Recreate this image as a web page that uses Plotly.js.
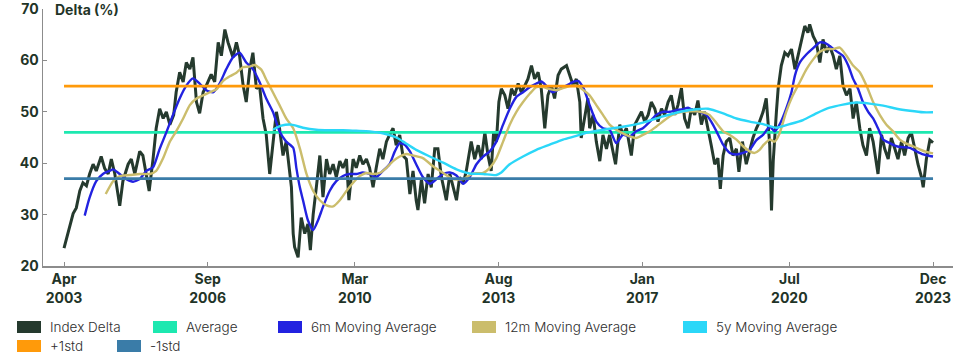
<!DOCTYPE html>
<html><head><meta charset="utf-8">
<script src="https://cdn.plot.ly/plotly-3.0.1.min.js"></script>
<style>html,body{margin:0;padding:0;background:#fff}#chart{width:953px;height:359px}</style>
</head><body><div id="chart"></div>
<script>
// ---------- DATA (x = months since Apr 2003) ----------
const tickMonths = [0, 41, 83, 124, 165, 207, 248];
const tickLabels = ["Apr<br>2003", "Sep<br>2006", "Mar<br>2010", "Aug<br>2013", "Jan<br>2017", "Jul<br>2020", "Dec<br>2023"];
const yTickValues = [20, 30, 40, 50, 60, 70];

const deltaMonths = [0,0.7,1.6,2.6,3.5,4.5,5.4,6.4,7.3,8.3,
9.2,10.6,11.6,12.6,13.5,14.5,15.9,16.8,18.3,19.2,
20.2,21.6,22.5,23.5,24.3,25.4,26.3,27.3,28.3,29.2,
30.2,31.3,32,33,34,34.9,35.9,36.8,37.8,38.7,
39.7,40.6,42,43,44,44.9,45.9,46.8,48.2,49.2,
50.1,51.1,52,53,53.9,54.9,55.8,56.8,57.7,58.7,
59.6,60.6,61.5,62.5,63.4,64.4,64.9,65.4,65.8,66.8,
67.7,68.7,69.6,70.3,71.1,72,73,73.9,74.9,75.8,
76.8,77.7,78.7,79.6,80.6,81.3,82.5,83.4,84.4,85.3,
86.3,87.2,88.2,89.1,90.1,91,92,92.9,93.9,94.8,
95.8,96.7,97.7,98.7,99.6,100.5,101,102,102.9,103.9,
104.8,105.8,106.7,107.7,108.6,109.1,110.1,111,112,112.9,
113.9,114.8,115.6,116.2,117.2,118.2,119.1,120.1,121,121.9,
122.6,123.4,124.1,124.8,125.8,126.7,127.7,128.6,129.6,130.5,
131.5,132.4,133.4,134.3,135.3,136.2,137.2,138.1,139.1,140,
141,141.9,143.4,144.3,145.3,146.2,147.2,147.6,148.6,149.5,
150,151,151.9,152.9,153.8,154.8,155.7,156.7,157.4,158.6,
159.5,160.5,161.4,161.9,162.9,163.8,164.8,165.7,166.7,167.6,
168.6,169.5,170.5,171.4,172.4,173.3,174.3,175.2,176.2,177.1,
178.1,179,180,180.9,181.9,182.8,183.8,184.7,185.7,186.6,
187.3,188.1,189,190,190.9,191.9,192.6,193.6,194.7,195.7,
196.6,197.6,198.5,199.5,200.4,200.9,201.4,201.9,202.4,203.3,
203.8,204.7,205.7,206.6,207.6,208.6,209.5,210.4,211.4,212.3,
212.8,213.8,214.7,215.7,216.6,217.6,218.5,219.5,220.4,221.4,
222.3,223.3,224.3,225.2,226.1,227.1,228,229,229.9,230.9,
232.3,233.3,234.2,235.2,236.1,237.1,238,239,239.9,240.9,
241.8,242.8,243.7,244.7,245.2,246.1,247.1,248];
const deltaValues = [23.5,25.4,27.5,30.2,31.3,34.6,36.2,35.6,37.9,39.8,
38.5,41.3,39.0,37.9,40.8,37.9,31.7,36.5,39.8,40.8,
37.9,42.3,41.5,37.9,34.6,40.8,46.8,50.6,48.7,50.0,
47.5,49.4,53.8,57.7,55.8,59.6,58.3,60.6,51.9,49.7,
53.8,55.1,57.3,55.8,63.5,60.9,66.0,63.5,60.6,63.5,
60.9,55.2,51.9,58.3,61.5,54.5,55.1,48.7,45.6,37.9,
44.2,50.0,46.8,41.5,44.2,37.9,35.3,26.3,23.7,21.7,
29.4,26.3,28.2,23.1,30.0,35.3,41.5,33.4,40.8,37.9,
39.8,37.3,40.4,39.1,40.8,32.8,40.8,39.1,41.5,39.8,
40.8,39.1,35.3,39.1,42.8,40.8,44.2,45.5,46.8,43.5,
45.5,41.5,40.8,34.0,38.5,32.8,30.9,36.9,32.2,37.9,
35.3,42.8,42.8,37.3,34.6,32.8,37.9,35.3,32.8,37.3,
36.0,38.5,41.5,44.2,40.8,43.5,40.8,46.0,41.5,38.5,
46.0,44.2,51.9,54.5,53.2,50.6,54.5,53.2,55.5,53.8,
55.1,56.4,59.0,56.4,57.7,54.5,46.8,53.2,55.1,52.6,
57.1,58.3,59.0,57.1,55.1,56.4,51.9,44.9,49.4,52.6,
46.8,49.4,44.2,40.4,45.5,42.8,45.5,42.2,39.8,47.5,
45.5,46.8,42.8,41.5,47.5,48.7,50.0,48.1,49.4,51.9,
50.6,48.1,50.6,49.4,51.9,53.2,49.4,51.3,54.6,48.7,
46.8,50.6,49.4,52.2,47.5,50.0,46.8,43.5,39.8,41.0,
35.0,41.5,44.2,44.9,41.5,42.8,38.3,44.2,39.8,42.8,
44.9,46.8,48.1,50.0,52.6,48.1,43.5,30.8,40.4,50.0,
54.5,59.0,61.5,60.9,62.2,58.3,60.9,64.1,66.7,65.4,
67.0,64.7,63.5,59.6,64.1,61.5,62.8,60.9,58.3,60.9,
55.1,53.2,54.5,48.7,51.9,46.8,43.5,41.5,46.8,44.2,
37.9,45.5,42.8,40.8,44.9,42.8,40.8,44.2,41.5,44.9,
46.0,42.8,39.8,37.3,35.3,40.8,44.5,44.0];

const ma6Months = [5.9,7.3,9.2,11.1,13,14,15.9,17.8,19.7,21.6,23.5,25.4,27.3,29.2,31.1,33,34.9,36.8,38.7,40.6,
42.5,44.4,46.3,48.2,50.1,52,53.9,55.8,57.7,59.6,61.5,63.4,65.4,66.3,67.3,68.2,69.6,71.1,72.5,73.9,
75.8,77.7,79.6,81.5,83.4,85.3,87.2,89.1,91,92.9,94.4,95.8,97.2,98.7,100.5,102.4,104.4,106.3,108.2,110.1,
112,113.9,115.8,117.7,119.6,121.5,123.4,125.3,127.2,129.1,131,132.9,134.8,136.2,137.6,139.5,141.5,143.4,145.3,146.7,
148.3,150,151.9,153.8,155.7,157.6,159.5,161.4,163.3,165.2,167.2,169,170.9,172.8,174.7,176.6,178.1,179.5,181.4,183.3,
184.7,186.2,188.1,190,191.9,193.8,195.7,197.6,199.5,201.4,202.8,204.2,206.1,207.6,208.6,210,211.9,213.8,215.7,217.1,
218.5,220.4,222.3,223.8,225.2,226.6,228,229.5,230.9,232.3,233.8,235.7,237.6,239.5,241.4,243.3,245.2,247.1,248];
const ma6Values = [29.8,33.3,36.5,37.9,38.5,38.8,37.9,36.9,36.4,36.9,38.5,39.2,42.8,46.0,49.4,52.6,55.1,56.5,55.5,54.2,
53.8,55.5,58.3,60.6,61.5,59.6,58.3,55.8,52.6,50.0,46.2,44.2,43.0,39.1,35.3,32.8,28.9,27.0,28.9,31.5,
34.6,36.5,37.5,37.9,37.9,38.2,37.9,37.3,38.5,39.8,42.3,43.9,43.6,42.3,39.8,37.3,36.0,36.9,37.9,38.2,
37.6,36.0,37.3,39.8,41.3,42.3,44.2,47.5,50.6,52.9,53.8,54.8,55.5,55.9,55.1,53.8,54.5,55.1,55.8,56.0,
54.5,51.3,48.1,46.8,46.5,43.9,45.5,45.2,46.2,46.8,48.1,49.4,50.0,50.0,50.3,50.5,50.8,50.3,50.0,49.4,
48.1,46.2,43.6,42.0,41.7,42.0,42.6,44.5,45.5,47.1,46.2,47.5,50.6,53.8,57.1,59.6,61.2,62.4,63.5,63.4,
62.8,61.8,60.9,59.0,56.4,54.5,51.9,50.0,48.7,46.8,44.6,43.9,43.3,43.1,43.0,42.3,41.7,41.4,41.3];

const ma12Months = [11.9,14,15.9,18.8,21.6,24.5,26.3,28.3,30.2,32,34,35.9,37.8,39.7,41.6,43.5,45.4,47.3,49.2,51.1,
53,54.4,56.3,57.7,59.6,61.5,63.4,65.4,67.3,69.2,71.1,73,74.9,76.8,78.7,80.6,82.5,84.4,86.3,88.2,
90.1,92,93.9,95.8,97.7,99.6,102.4,105.3,108.2,111,113.9,116.7,119.6,121.5,123.4,125.3,127.2,129.1,131,132.9,
134.8,136.7,138.6,140.5,142.4,144.3,146.2,148.1,150,151.9,153.8,155.7,157.6,159.5,161.4,163.3,165.2,167.2,169,170.9,
172.8,174.7,176.6,178.5,180.4,182.3,184.2,186.2,188.1,190,191.9,193.8,195.7,197.1,198.5,199.7,201.4,202.8,204.2,206.1,
208,210,211.9,213.8,215.7,217.6,219.5,221.4,223.3,225.2,227.1,229,230.9,232.8,234.7,236.6,238.5,240.4,242.3,244.2,
246.1,248];
const ma12Values = [34.0,36.5,37.5,37.7,37.9,37.9,38.5,41.0,44.2,46.2,48.7,51.3,52.6,53.2,53.8,54.4,56.0,56.9,57.6,58.7,
58.8,59.1,58.2,56.3,53.8,51.3,48.7,46.8,42.9,37.9,34.6,32.8,31.8,31.6,32.8,34.6,36.2,37.5,38.1,37.9,
38.1,39.1,40.4,41.3,41.8,41.5,41.0,39.4,38.1,36.9,36.9,38.0,38.1,39.1,41.0,44.2,47.5,50.0,51.9,53.5,
54.8,54.8,54.4,54.2,54.6,55.0,55.1,54.3,53.2,51.3,49.4,47.5,46.5,45.8,45.2,44.9,45.5,46.2,47.1,48.1,
49.1,49.7,50.0,50.1,50.1,49.9,49.4,47.8,46.2,45.5,44.6,43.3,42.3,42.0,42.6,43.6,44.6,44.2,45.8,50.0,
53.2,55.8,58.3,60.2,61.7,62.2,62.2,62.5,60.9,59.0,57.7,55.1,51.9,49.4,47.5,46.2,44.6,43.8,43.3,42.7,
42.2,41.9];

const ma5yMonths = [59.6,62,64.9,68.2,72,75.8,79.6,83.4,87.2,91,94.8,97.5,100.5,104.4,108.2,112,115.8,119.6,123.4,124.8,
127.2,131,134.8,138.6,142.4,146.2,149.5,153.8,159.5,165.2,170.9,176.6,180.4,183.8,188.1,191.9,195.7,199.5,203.3,207.1,
210.9,214.7,218.5,222.3,226.1,229.9,233.8,237.6,241.4,245.2,248];
const ma5yValues = [46.5,47.3,47.5,46.9,46.5,46.4,46.4,46.3,46.2,45.8,45.0,43.9,42.6,41.3,40.1,38.8,38.0,37.9,37.7,38.2,
39.8,41.3,42.6,43.6,44.6,45.3,46.0,46.5,47.1,47.9,49.1,50.1,50.5,50.6,49.7,48.7,48.1,47.6,46.9,47.6,
48.4,49.7,50.8,51.4,51.8,51.6,51.2,50.6,50.2,49.9,49.9];

const averageLevel = 46.0;
const plusStdLevel = 55.0;
const minusStdLevel = 37.0;

const seriesNames = ["Index Delta", "Average", "6m Moving Average", "12m Moving Average", "5y Moving Average", "+1std", "-1std"];
const seriesColors = ["#253a2e", "#1de8b0", "#2222e0", "#cbbd6c", "#2bd7f8", "#ff9a0a", "#3a7ca8"];

// ---------- LAYOUT HELPERS ----------
const W = 953, H = 359;
const M = {l: 43, r: 0, t: 9, b: 93};
const plotW = W - M.l - M.r, plotH = H - M.t - M.b;
const paperX = px => (px - M.l) / plotW;
const paperY = py => (H - M.b - py) / plotH;

const firstM = deltaMonths[0], lastM = deltaMonths[deltaMonths.length - 1];
const lw = 2.4;
const traces = [
  {x: deltaMonths, y: deltaValues, name: seriesNames[0], mode: "lines", line: {color: seriesColors[0], width: 3}},
  {x: [firstM, lastM], y: [averageLevel, averageLevel], name: seriesNames[1], mode: "lines", line: {color: seriesColors[1], width: 2.6}},
  {x: ma6Months, y: ma6Values, name: seriesNames[2], mode: "lines", line: {color: seriesColors[2], width: lw, shape: "spline", smoothing: 0.6}},
  {x: ma12Months, y: ma12Values, name: seriesNames[3], mode: "lines", line: {color: seriesColors[3], width: lw, shape: "spline", smoothing: 0.6}},
  {x: ma5yMonths, y: ma5yValues, name: seriesNames[4], mode: "lines", line: {color: seriesColors[4], width: lw, shape: "spline", smoothing: 0.6}},
  {x: [firstM, lastM], y: [plusStdLevel, plusStdLevel], name: seriesNames[5], mode: "lines", line: {color: seriesColors[5], width: 2.6}},
  {x: [firstM, lastM], y: [minusStdLevel, minusStdLevel], name: seriesNames[6], mode: "lines", line: {color: seriesColors[6], width: 2.6}}
].map(t => Object.assign(t, {showlegend: false, hoverinfo: "skip"}));

// legend built from shapes + text
const legendPos = [[17, 327], [153, 327], [278, 327], [472, 327], [683, 327], [17, 346], [117, 346]];
const shapes = [], annotations = [];
seriesNames.forEach((name, i) => {
  const [lx, ly] = legendPos[i];
  shapes.push({type: "rect", xref: "paper", yref: "paper",
    x0: paperX(lx), x1: paperX(lx + 24), y0: paperY(ly + 6), y1: paperY(ly - 6),
    fillcolor: seriesColors[i], line: {width: 0}});
  annotations.push({xref: "paper", yref: "paper", x: paperX(lx + 31), y: paperY(ly),
    xanchor: "left", yanchor: "middle", showarrow: false, text: name,
    font: {family: "Inter", size: 13.5, weight: 300, color: "#2e2e2e"}});
});
annotations.push({xref: "paper", yref: "paper", x: paperX(53), y: paperY(9), xanchor: "left", yanchor: "middle",
  showarrow: false, text: "<b>Delta (%)</b>", font: {family: "Inter", size: 14, color: "#1f3428"}});

const tickFont = {family: "Inter", size: 14, weight: 700, color: "#1f3428"};
const layout = {
  width: W, height: H, margin: M, paper_bgcolor: "#fff", plot_bgcolor: "#fff",
  font: {family: "Inter"},
  showlegend: false,
  xaxis: {range: [-6, 253.7], tickmode: "array", tickvals: tickMonths, ticktext: tickLabels,
    ticks: "inside", ticklen: 4, tickcolor: "#8c8c8c", showline: true, linecolor: "#8c8c8c", linewidth: 1.5,
    showgrid: false, zeroline: false, tickfont: tickFont, ticklabeloverflow: "allow"},
  yaxis: {range: [20, 70], tickmode: "array", tickvals: yTickValues,
    ticks: "inside", ticklen: 4, tickcolor: "#8c8c8c", showline: true, linecolor: "#8c8c8c", linewidth: 1.5,
    showgrid: false, zeroline: false, tickfont: tickFont, ticklabeloverflow: "allow"},
  shapes: shapes, annotations: annotations
};
Plotly.newPlot("chart", traces, layout, {staticPlot: true, displayModeBar: false});
</script></body></html>
